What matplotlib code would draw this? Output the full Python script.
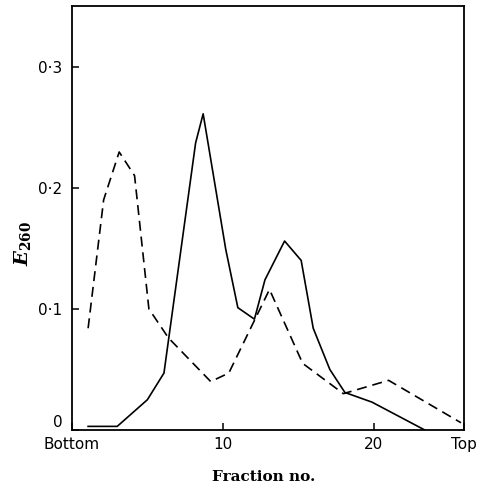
import matplotlib
matplotlib.use('Agg')
import matplotlib.pyplot as plt

# fraction positions and E260
frac_solid = [1.07, 3.0, 5.0, 6.1, 8.2, 8.7, 10.2, 11.0, 12.1, 12.8, 14.1, 15.2, 16.0, 17.1, 18.1, 19.9, 23.4]
e260_solid = [0.003, 0.003, 0.025, 0.047, 0.237, 0.261, 0.149, 0.101, 0.0915, 0.124, 0.156, 0.140, 0.084, 0.050, 0.031, 0.023, 0.0]

frac_dash = [1.07, 2.1, 3.13, 4.15, 5.1, 6.4, 9.2, 10.4, 13.1, 15.3, 18.0, 21.0, 25.8]
e260_dash = [0.084, 0.19, 0.2295, 0.21, 0.10, 0.076, 0.040, 0.047, 0.116, 0.055, 0.030, 0.041, 0.006]

xticks = [0, 10, 20, 26]
xticklabels = ['Bottom', '10', '20', 'Top']
yticks = [0, 0.1, 0.2, 0.3]
yticklabels = ['0', '0\u00b71', '0\u00b72', '0\u00b73']

plt.rcParams['mathtext.fontset'] = 'dejavuserif'

fig = plt.figure(figsize=(4.78, 4.91), dpi=100)
ax = fig.add_axes([0.1506, 0.1242, 0.8201, 0.8636])

ax.plot(frac_solid, e260_solid, color='black', lw=1.2)
l2, = ax.plot(frac_dash, e260_dash, color='black', lw=1.2)
l2.set_dashes((6, 3.5))

ax.set_xlim(0, 26)
ax.set_ylim(0, 0.35)
ax.set_xticks(xticks)
ax.set_xticklabels(xticklabels)
ax.set_yticks(yticks)
ax.set_yticklabels(yticklabels)
ax.get_yticklabels()[0].set_va('bottom')
ax.tick_params(direction='in', length=5, width=1.1, labelsize=11)
ax.tick_params(axis='x', pad=5)
ax.tick_params(axis='y', pad=7)
for s in ax.spines.values():
    s.set_linewidth(1.3)

ax.set_xlabel('Fraction no.', family='DejaVu Serif', fontweight='bold', fontsize=11)
ax.xaxis.set_label_coords(0.49, -0.095)
ax.set_ylabel(r'$\mathbfit{E}_{\mathbf{260}}$', fontsize=14)
ax.yaxis.set_label_coords(-0.10, 0.44)

plt.savefig('out.png', dpi=100)
